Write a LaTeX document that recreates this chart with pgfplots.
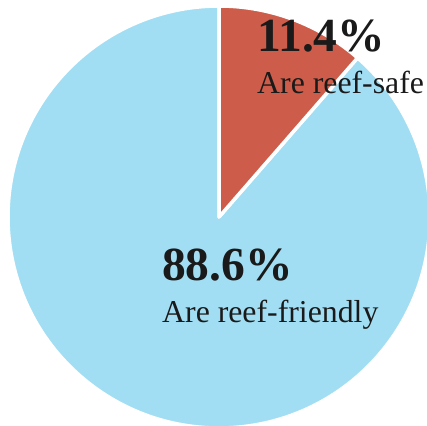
\documentclass[border=0pt]{standalone}
\usepackage{pgfplots}
\pgfplotsset{compat=1.18}
\usepackage{fontspec}
\setmainfont{Liberation Serif}
\definecolor{safec}{HTML}{CD5D4A}
\definecolor{friendc}{HTML}{A2DEF3}
\definecolor{txt}{HTML}{1A1A1A}
\begin{document}
\begin{tikzpicture}
% slice values in percent
\def\safe{11.4}
\def\friendly{88.6}
\pgfmathsetmacro{\aend}{90-3.6*\safe}
\pgfmathsetmacro{\bend}{\aend-3.6*\friendly}
\begin{axis}[name=ax, scale only axis, width=427pt, height=425pt,
  xmin=0, xmax=427, ymin=0, ymax=425, y dir=reverse, hide axis, clip=false]
\fill[friendc, draw=white, line width=3.5pt, line join=round]
  (axis cs:219,217) -- ++(\aend:211pt) arc[start angle=\aend, end angle=\bend, radius=211pt] -- cycle;
\fill[safec, draw=white, line width=3.5pt, line join=round]
  (axis cs:219,217) -- ++(90:211pt) arc[start angle=90, end angle=\aend, radius=211pt] -- cycle;
\node[anchor=base west, inner sep=0pt, text=txt, font=\fontsize{47.5}{52}\selectfont\bfseries] at (axis cs:257,52) {11.4\%};
\node[anchor=base west, inner sep=0pt, text=txt, font=\fontsize{31.8}{36}\selectfont] at (axis cs:257,93) {Are reef-safe};
\node[anchor=base west, inner sep=0pt, text=txt, font=\fontsize{47.5}{52}\selectfont\bfseries] at (axis cs:162,280) {88.6\%};
\node[anchor=base west, inner sep=0pt, text=txt, font=\fontsize{31.8}{36}\selectfont] at (axis cs:162,322) {Are reef-friendly};
\end{axis}
\pgfresetboundingbox
\useasboundingbox (ax.south west) rectangle (ax.north east);
\end{tikzpicture}
\end{document}
